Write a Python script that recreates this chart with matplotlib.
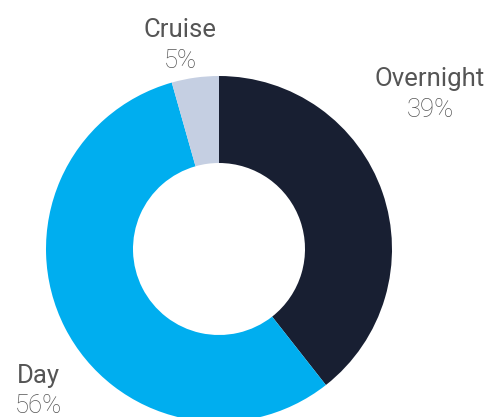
import matplotlib
matplotlib.use("Agg")
import matplotlib.pyplot as plt

categories = ["Overnight", "Day", "Cruise"]
values = [39.4, 56.2, 4.4]
pct_labels = ["39%", "56%", "5%"]
colors = ["#181f32", "#00aeef", "#c5cfe2"]

W, H = 493, 417
fig = plt.figure(figsize=(W / 100, H / 100), dpi=100)
ax = fig.add_axes([0, 0, 1, 1])

cx, cy, R, r = 219, H - 249, 173, 86
ax.pie(values, colors=colors, startangle=90, counterclock=False,
       center=(cx, cy), radius=R,
       wedgeprops=dict(width=R - r, linewidth=0), frame=True)
ax.set_xlim(0, W)
ax.set_ylim(0, H)
ax.set_aspect("equal")
ax.axis("off")

label_pos = {"Overnight": (430, 86, 117), "Day": (38, 383, 413), "Cruise": (180, 37, 68)}
for cat, pct in zip(categories, pct_labels):
    x, yb1, yb2 = label_pos[cat]
    ax.text(x, H - yb1, cat, ha="center", va="baseline", fontsize=18.5,
            family="Roboto", color="#555555")
    ax.text(x, H - yb2, pct, ha="center", va="baseline", fontsize=18.5,
            family="Roboto", fontweight="light", color="#555555")

fig.savefig("out.png", dpi=100)
